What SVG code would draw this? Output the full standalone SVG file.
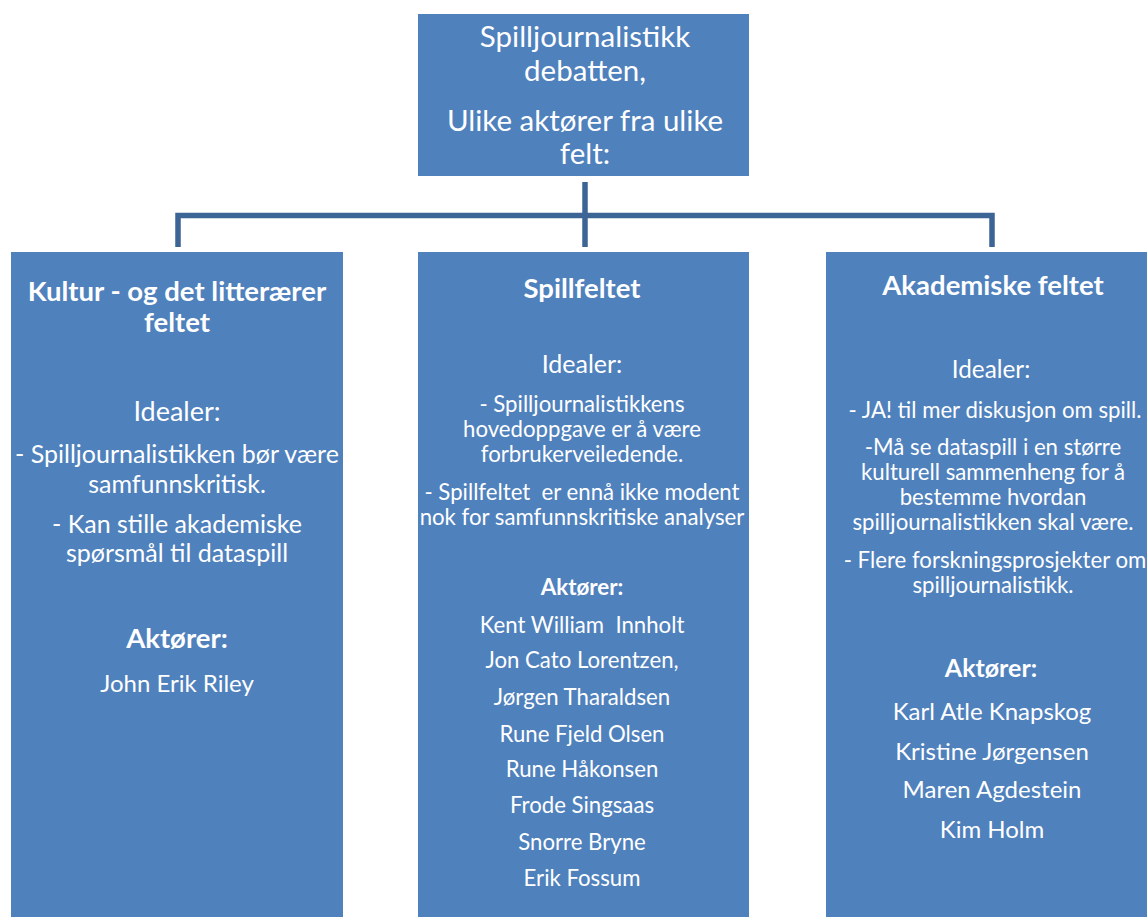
<svg xmlns="http://www.w3.org/2000/svg" width="1147" height="917" viewBox="0 0 1147 917">
<style>
.box{fill:#4f81bd}
text{font-family:Lato,"Open Sans","Liberation Sans",sans-serif;fill:#ffffff;text-anchor:middle;white-space:pre}
.t{font-size:29.5px}
.h{font-size:27.5px;font-weight:bold}
.b{font-size:25px}
.m{font-size:22.2px}
.n{font-size:22.2px}
.r{font-size:24px}
.c{fill:none;stroke:#3c6494;stroke-width:5.5}
</style>
<rect width="1147" height="917" fill="#ffffff"/>
<g id="connectors">
<path class="c" d="M585 182 V247"/>
<path class="c" d="M178 247 V215.5 H992 V247"/>
</g>
<g id="top">
<rect class="box" x="418" y="14" width="331" height="162"/>
<text class="t" x="585" y="47">Spilljournalistikk</text>
<text class="t" x="585" y="81">debatten,</text>
<text class="t" x="585" y="131">Ulike aktører fra ulike</text>
<text class="t" x="585" y="164">felt:</text>
</g>
<g id="kultur">
<rect class="box" x="11" y="252" width="332" height="665"/>
<text class="h" x="177" y="301">Kultur - og det litterærer</text>
<text class="h" x="177" y="332">feltet</text>
<text class="b" x="177" y="421" style="font-size:27px">Idealer:</text>
<text class="b" x="177" y="463">- Spilljournalistikken bør være</text>
<text class="b" x="177" y="493">samfunnskritisk.</text>
<text class="b" x="177" y="533">- Kan stille akademiske</text>
<text class="b" x="177" y="562">spørsmål til dataspill</text>
<text class="h" x="177" y="648">Aktører:</text>
<text class="r" x="177" y="692">John Erik Riley</text>
</g>
<g id="spillfeltet">
<rect class="box" x="418" y="252" width="331" height="665"/>
<text class="h" x="582" y="298">Spillfeltet</text>
<text class="b" x="582" y="373">Idealer:</text>
<text class="m" x="582" y="412">- Spilljournalistikkens</text>
<text class="m" x="582" y="437">hovedoppgave er å være</text>
<text class="m" x="582" y="462">forbrukerveiledende.</text>
<text class="m" x="582" y="500" xml:space="preserve">- Spillfeltet  er ennå ikke modent</text>
<text class="m" x="582" y="525">nok for samfunnskritiske analyser</text>
<text class="h" x="582" y="595" style="font-size:22.4px">Aktører:</text>
<text class="n" x="582" y="633" xml:space="preserve">Kent William  Innholt</text>
<text class="n" x="582" y="668">Jon Cato Lorentzen,</text>
<text class="n" x="582" y="705">Jørgen Tharaldsen</text>
<text class="n" x="582" y="742">Rune Fjeld Olsen</text>
<text class="n" x="582" y="777">Rune Håkonsen</text>
<text class="n" x="582" y="813">Frode Singsaas</text>
<text class="n" x="582" y="850">Snorre Bryne</text>
<text class="n" x="582" y="886">Erik Fossum</text>
</g>
<g id="akademiske">
<rect class="box" x="826" y="252" width="321" height="665"/>
<text class="h" x="993" y="295">Akademiske feltet</text>
<text class="m" x="991" y="378" style="font-size:24.3px">Idealer:</text>
<text class="m" x="995" y="418">- JA! til mer diskusjon om spill.</text>
<text class="m" x="993" y="455">-Må se dataspill i en større</text>
<text class="m" x="993" y="480">kulturell sammenheng for å</text>
<text class="m" x="993" y="505">bestemme hvordan</text>
<text class="m" x="993" y="530">spilljournalistikken skal være.</text>
<text class="m" x="995" y="568">- Flere forskningsprosjekter om</text>
<text class="m" x="993" y="593">spilljournalistikk.</text>
<text class="h" x="991" y="677" style="font-size:25px">Aktører:</text>
<text class="r" x="992" y="720">Karl Atle Knapskog</text>
<text class="r" x="992" y="760">Kristine Jørgensen</text>
<text class="r" x="992" y="798">Maren Agdestein</text>
<text class="r" x="992" y="838">Kim Holm</text>
</g>
</svg>
